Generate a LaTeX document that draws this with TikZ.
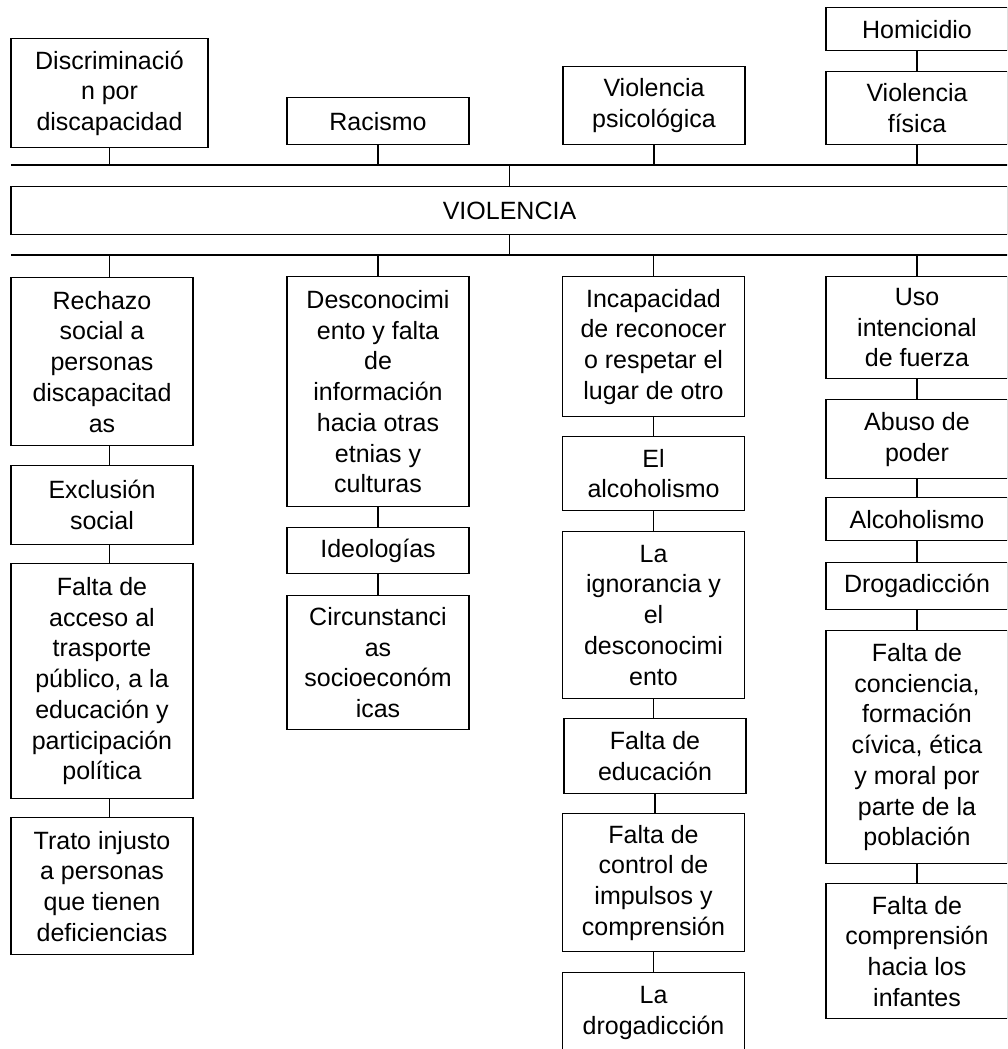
\documentclass[tikz,border=0pt]{standalone}
\usepackage{fontspec}
\setmainfont{Liberation Sans}

\newcommand*{\anchocol}{182}
\newcommand*{\ybusarr}{165}
\newcommand*{\ybusab}{255}

\tikzset{
	caja/.style n args={2}{draw, line width=1.4pt, minimum width=#1, minimum height=#2,
		anchor=north, align=center, inner sep=0pt, font=\fontsize{25}{30.7}\selectfont},
	linea/.style={line width=1.4pt},
}

\begin{document}
\begin{tikzpicture}[x=1pt,y=-1pt]

	\useasboundingbox (0,0) rectangle (1007,1049);
	\clip (0,0) rectangle (1007,1049);

	% fila de arriba
	\node[caja={197}{109}] (discrim) at (109.5,38) {Discriminació\\n por\\discapacidad};
	\node[caja={\anchocol}{47}] (racismo) at (378,97) {Racismo};
	\node[caja={\anchocol}{78}] (psicol) at (654,66) {Violencia\\psicológica};
	\node[caja={\anchocol}{43}] (homic) at (917,7) {Homicidio};
	\node[caja={\anchocol}{73}] (fisica) at (917,71) {Violencia\\física};

	\node[caja={997}{48}] (violencia) at (509.5,186) {VIOLENCIA};

	% columna 1
	\node[caja={\anchocol}{168}] (rechazo) at (102,277) {Rechazo\\social a\\personas\\discapacitad\\as};
	\node[caja={\anchocol}{79}] (exclus) at (102,465) {Exclusión\\social};
	\node[caja={\anchocol}{235}] (acceso) at (102,563) {Falta de\\acceso al\\trasporte\\público, a la\\educación y\\participación\\política};
	\node[caja={\anchocol}{137}] (trato) at (102,817) {Trato injusto\\a personas\\que tienen\\deficiencias};

	% columna 2
	\node[caja={\anchocol}{230}] (desconoc) at (378,276) {Desconocimi\\ento y falta\\de\\información\\hacia otras\\etnias y\\culturas};
	\node[caja={\anchocol}{46}] (ideol) at (378,527) {Ideologías};
	\node[caja={\anchocol}{134}] (circuns) at (378,595) {Circunstanci\\as\\socioeconóm\\icas};

	% columna 3
	\node[caja={\anchocol}{140}] (incapac) at (653.5,276) {Incapacidad\\de reconocer\\o respetar el\\lugar de otro};
	\node[caja={\anchocol}{74}] (elalcoh) at (653.5,436) {El\\alcoholismo};
	\node[caja={\anchocol}{167}] (ignor) at (653.5,531) {La\\ignorancia y\\el\\desconocimi\\ento};
	\node[caja={\anchocol}{75}] (educ) at (655,718) {Falta de\\educación};
	\node[caja={\anchocol}{138}] (control) at (653.5,813) {Falta de\\control de\\impulsos y\\comprensión};
	\node[caja={\anchocol}{80}] (ladrog) at (653.5,972) {La\\drogadicción};

	% columna 4
	\node[caja={\anchocol}{102}] (uso) at (917,276) {Uso\\intencional\\de fuerza};
	\node[caja={\anchocol}{79}] (abuso) at (917,399) {Abuso de\\poder};
	\node[caja={\anchocol}{43}] (alcoh) at (917,497) {Alcoholismo};
	\node[caja={\anchocol}{47}] (drogad) at (917,562) {Drogadicción};
	\node[caja={\anchocol}{233}] (concien) at (917,630) {Falta de\\conciencia,\\formación\\cívica, ética\\y moral por\\parte de la\\población};
	\node[caja={\anchocol}{135}] (compren) at (917,883) {Falta de\\comprensión\\hacia los\\infantes};

	% barras
	\coordinate (bus1w) at (11,\ybusarr);
	\coordinate (bus1e) at (1010,\ybusarr);
	\coordinate (bus2w) at (11,\ybusab);
	\coordinate (bus2e) at (1010,\ybusab);
	\coordinate (k1) at (109.5,0);

	\draw[linea] (bus1w) -- (bus1e);
	\draw[linea] (bus2w) -- (bus2e);
	\draw[linea] (homic) -- (fisica);
	\foreach \n in {discrim,racismo,psicol,fisica}
		\draw[linea] (\n.south) -- (\n.south |- bus1w);
	\draw[linea] (violencia.north) -- (violencia.north |- bus1w);
	\draw[linea] (violencia.south) -- (violencia.south |- bus2w);

	% conectores de las columnas
	\draw[linea] (k1 |- bus2w) -- (k1 |- rechazo.north);
	\foreach \a/\b in {rechazo/exclus,exclus/acceso,acceso/trato}
		\draw[linea] (k1 |- \a.south) -- (k1 |- \b.north);
	\foreach \n in {desconoc,incapac,uso}
		\draw[linea] (\n.north) -- (\n.north |- bus2w);
	\foreach \a/\b in {desconoc/ideol,ideol/circuns,incapac/elalcoh,elalcoh/ignor,ignor/educ,educ/control,control/ladrog,uso/abuso,abuso/alcoh,alcoh/drogad,drogad/concien,concien/compren}
		\draw[linea] (\a.south) -- (\a.south |- \b.north);

\end{tikzpicture}
\end{document}
